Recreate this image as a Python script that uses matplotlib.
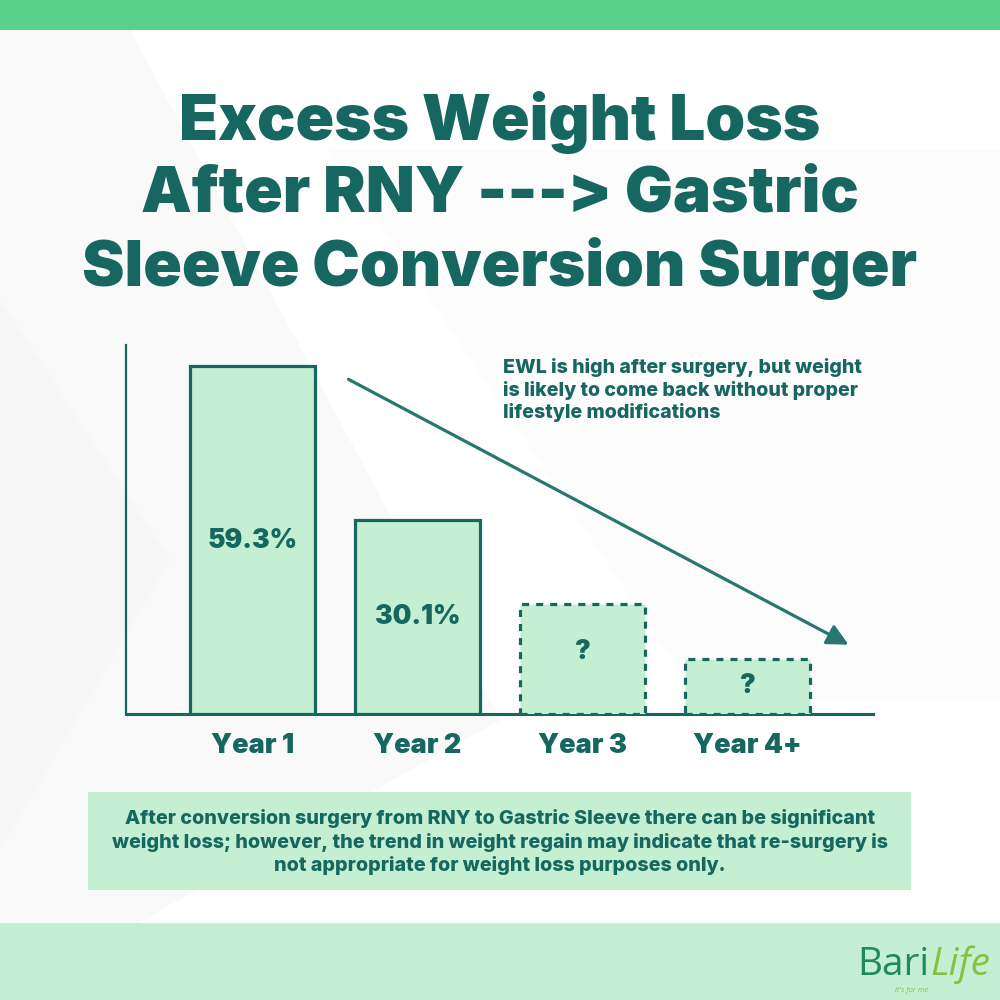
import matplotlib
matplotlib.use("Agg")
import matplotlib.pyplot as plt
from matplotlib.patches import Rectangle, Polygon, FancyArrowPatch

# ---- data ----
categories = ["Year 1", "Year 2", "Year 3", "Year 4+"]
bar_heights = [59.3, 33.0, 18.8, 9.4]          # drawn heights
bar_labels = ["59.3%", "30.1%", "?", "?"]
label_heights = [29.5, 16.5, 10.5, 4.7]         # vertical positions of the in-bar labels
dashed = [False, False, True, True]

title_lines = ["Excess Weight Loss", "After RNY ---> Gastric", "Sleeve Conversion Surger"]
note_text = ("EWL is high after surgery, but weight\n"
             "is likely to come back without proper\n"
             "lifestyle modifications")
footer_text = ("After conversion surgery from RNY to Gastric Sleeve there can be significant\n"
               "weight loss; however, the trend in weight regain may indicate that re-surgery is\n"
               "not appropriate for weight loss purposes only.")

DARK = "#166760"
LIGHT = "#c4efd3"
TOPBAND = "#5bcf8c"
FONT = "Inter"

fig = plt.figure(figsize=(10, 10), dpi=100)
fig.patch.set_facecolor("white")

# background layer in pixel coordinates (y down)
bg = fig.add_axes([0, 0, 1, 1], zorder=0)
bg.set_xlim(0, 1000)
bg.set_ylim(1000, 0)
bg.axis("off")
bg.add_patch(Polygon([(0, 30), (130, 30), (500, 720), (0, 1000)], closed=True,
                     facecolor="#f9f9f9", edgecolor="none"))
bg.add_patch(Polygon([(0, 300), (170, 560), (0, 850)], closed=True,
                     facecolor="#f6f6f6", edgecolor="none"))
bg.add_patch(Polygon([(330, 150), (1000, 150), (1000, 700), (700, 700)], closed=True,
                     facecolor="#fcfcfc", edgecolor="none"))
bg.add_patch(Rectangle((0, 0), 1000, 30, facecolor=TOPBAND, edgecolor="none"))
bg.add_patch(Rectangle((0, 923), 1000, 77, facecolor=LIGHT, edgecolor="none"))
bg.add_patch(Rectangle((88, 792), 823, 98, facecolor=LIGHT, edgecolor="none"))

# title
for i, line in enumerate(title_lines):
    bg.text(500, 122 + i * 73, line, ha="center", va="center", fontsize=46,
            fontweight=900, color=DARK, family=FONT)

# annotation
bg.text(503, 390, note_text, ha="left", va="center", fontsize=14.1, fontweight=800,
        color=DARK, family=FONT, linespacing=1.22)

# footer text
bg.text(500, 842, footer_text, ha="center", va="center", fontsize=14.2, fontweight=800,
        color=DARK, family=FONT, linespacing=1.3)

# logo
bg.text(857, 965, "Bari", ha="left", va="center", fontsize=28, color="#1f8a5c",
        family="Open Sans")
bg.text(930, 965, "Life", ha="left", va="center", fontsize=28, color="#82c341",
        family="Open Sans", style="italic")
bg.text(912, 990, "it's for me", ha="center", va="center", fontsize=5.5, color="#82c341",
        family="Open Sans", style="italic")

# ---- chart ----
ax = fig.add_axes([0.126, 0.286, 0.747, 0.369], zorder=2)
ax.patch.set_alpha(0)
x = list(range(len(categories)))
bars = ax.bar(x, bar_heights, width=0.758, color=LIGHT, edgecolor=DARK, linewidth=2.3,
              zorder=3)
for b, d in zip(bars, dashed):
    if d:
        b.set_linestyle((0, (2.2, 2.2)))
for xi, lab, lh in zip(x, bar_labels, label_heights):
    ax.text(xi, lh, lab, ha="center", va="center", fontsize=19, fontweight=900,
            color=DARK, family=FONT, zorder=4)

ax.set_xlim(-0.767, 3.76)
ax.set_ylim(0, 62.9)
ax.set_xticks(x)
ax.set_xticklabels(categories, fontsize=19.5, fontweight=900, color=DARK, family=FONT)
ax.tick_params(axis="x", length=0, pad=14)
ax.set_yticks([])
for s in ["top", "right"]:
    ax.spines[s].set_visible(False)
ax.spines["left"].set_color(DARK)
ax.spines["left"].set_linewidth(1.6)
ax.spines["bottom"].set_color(DARK)
ax.spines["bottom"].set_linewidth(2.2)

# trend arrow (figure-pixel coordinates of the overlay)
arrow = FancyArrowPatch((346, 378), (851, 646), arrowstyle="-|>,head_length=8,head_width=4",
                        mutation_scale=1.6, color="#27776e", linewidth=2.3,
                        transform=bg.transData, zorder=5)
fig.add_artist(arrow)

fig.savefig("out.png", dpi=100)
